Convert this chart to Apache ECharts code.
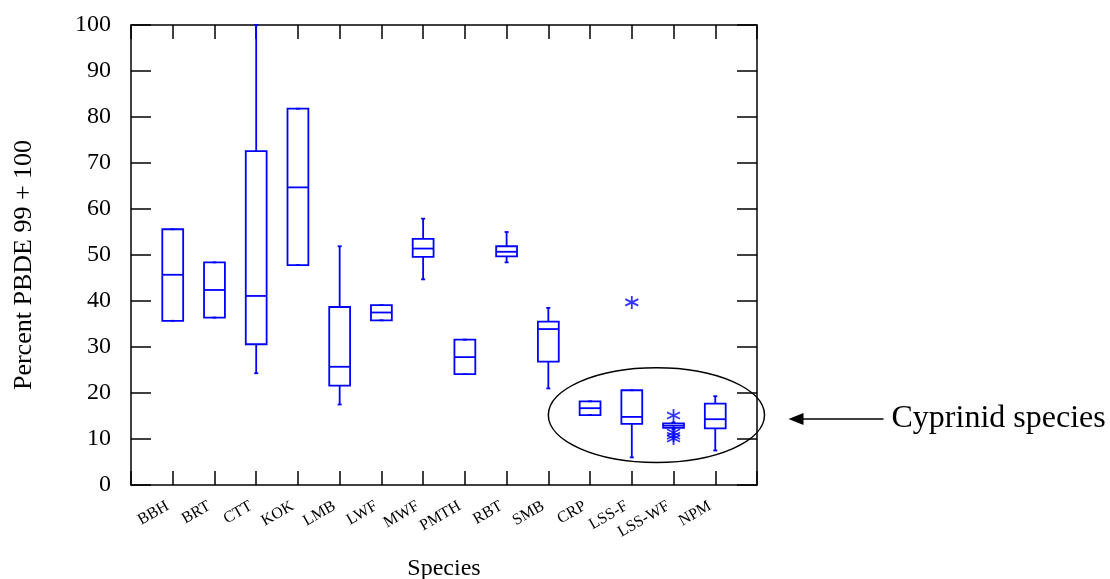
<!DOCTYPE html>
<html>
<head>
<meta charset="utf-8">
<script src="https://cdn.jsdelivr.net/npm/echarts@6/dist/echarts.min.js"></script>
<style>
html,body{margin:0;padding:0;background:#fff;}
#chart{width:1110px;height:579px;}
</style>
</head>
<body>
<div id="chart"></div>
<script>
// ---- data ----
var categories = ['BBH','BRT','CTT','KOK','LMB','LWF','MWF','PMTH','RBT','SMB','CRP','LSS-F','LSS-WF','NPM'];
var whiskerLow  = [35.7, 36.4, 24.3, 47.8, 17.5, 35.8, 44.7, 24.1, 48.4, 21.0, 15.2,  6.0, 12.1,  7.5];
var q1          = [35.7, 36.4, 30.6, 47.8, 21.6, 35.8, 49.6, 24.1, 49.7, 26.8, 15.2, 13.3, 12.4, 12.3];
var median      = [45.7, 42.4, 41.1, 64.7, 25.7, 37.5, 51.4, 27.8, 50.7, 33.9, 16.7, 14.8, 12.9, 14.3];
var q3          = [55.6, 48.4, 72.6, 81.8, 38.7, 39.1, 53.5, 31.6, 51.9, 35.5, 18.2, 20.6, 13.4, 17.7];
var whiskerHigh = [55.6, 48.4, 100.0, 81.8, 51.9, 39.1, 57.9, 31.6, 55.0, 38.5, 18.2, 20.6, 13.6, 19.3];
var outlierSpecies = ['LSS-F','LSS-WF','LSS-WF','LSS-WF','LSS-WF'];
var outlierValues  = [39.7, 15.1, 11.4, 10.7, 10.1];
var yTicks = [0,10,20,30,40,50,60,70,80,90,100];
var yTitle = 'Percent PBDE 99 + 100';
var xTitle = 'Species';
var noteText = 'Cyprinid species';
// highlighted group (ellipse) in data units: center x,y and radii
var groupCenter = [12.59, 15.2];
var groupRadius = [2.59, 10.3];

var BLUE = '#0000ff';
var FONT = 'Liberation Serif';

var boxData = categories.map(function (c, i) {
  return [i + 1, whiskerLow[i], q1[i], median[i], q3[i], whiskerHigh[i]];
});
var outlierData = outlierSpecies.map(function (s, i) {
  return [categories.indexOf(s) + 1, outlierValues[i]];
});

function renderBox(params, api) {
  var x = api.value(0);
  var lo = api.coord([x, api.value(1)]);
  var b1 = api.coord([x, api.value(2)]);
  var md = api.coord([x, api.value(3)]);
  var b3 = api.coord([x, api.value(4)]);
  var hi = api.coord([x, api.value(5)]);
  var half = api.size([1, 0])[0] * 0.25;
  var cap = 2;
  var cx = lo[0];
  var st = {stroke: BLUE, lineWidth: 1.8, fill: null};
  return {
    type: 'group',
    children: [
      {type: 'line', shape: {x1: cx, y1: hi[1], x2: cx, y2: b3[1]}, style: st},
      {type: 'line', shape: {x1: cx, y1: b1[1], x2: cx, y2: lo[1]}, style: st},
      {type: 'line', shape: {x1: cx - cap, y1: hi[1], x2: cx + cap, y2: hi[1]}, style: st},
      {type: 'line', shape: {x1: cx - cap, y1: lo[1], x2: cx + cap, y2: lo[1]}, style: st},
      {type: 'rect', shape: {x: cx - half, y: b3[1], width: 2 * half, height: b1[1] - b3[1]}, style: {stroke: BLUE, lineWidth: 1.8, fill: 'none'}},
      {type: 'line', shape: {x1: cx - half, y1: md[1], x2: cx + half, y2: md[1]}, style: st}
    ]
  };
}

var chart = echarts.init(document.getElementById('chart'), null, {renderer: 'canvas'});
var axisLineStyle = {color: '#000', width: 1.5};
var tickStyle = {color: '#000', width: 1.5};
var option = {
  backgroundColor: '#fff',
  animation: false,
  grid: {left: 131, right: 353, top: 25, bottom: 94, containLabel: false, outerBoundsMode: 'none'},
  xAxis: [{
    type: 'value', min: 0, max: categories.length + 1, interval: 1,
    position: 'bottom',
    axisLine: {show: true, onZero: false, lineStyle: axisLineStyle},
    axisTick: {show: true, inside: true, length: 14, lineStyle: tickStyle},
    splitLine: {show: false},
    axisLabel: {
      rotate: 30, margin: 17, fontFamily: FONT, fontSize: 16, color: '#000',
      padding: [0, 6, 0, 0],
      formatter: function (v) { return categories[v - 1] || ''; }
    },
    name: xTitle, nameLocation: 'middle', nameGap: 72,
    nameTextStyle: {fontFamily: FONT, fontSize: 24, color: '#000'}
  }, {
    type: 'value', min: 0, max: categories.length + 1, interval: 1,
    position: 'top',
    axisLine: {show: true, onZero: false, lineStyle: axisLineStyle},
    axisTick: {show: true, inside: true, length: 14, lineStyle: tickStyle},
    splitLine: {show: false},
    axisLabel: {show: false}
  }],
  yAxis: [{
    type: 'value', min: yTicks[0], max: yTicks[yTicks.length - 1], interval: yTicks[1] - yTicks[0],
    position: 'left',
    axisLine: {show: true, onZero: false, lineStyle: axisLineStyle},
    axisTick: {show: true, inside: true, length: 20, lineStyle: tickStyle},
    splitLine: {show: false},
    axisLabel: {margin: 20, fontFamily: FONT, fontSize: 24, color: '#000'},
    name: yTitle, nameLocation: 'middle', nameGap: 94, nameRotate: 90,
    nameTextStyle: {fontFamily: FONT, fontSize: 26, color: '#000', padding: [0, 20, 0, 0]}
  }, {
    type: 'value', min: yTicks[0], max: yTicks[yTicks.length - 1], interval: yTicks[1] - yTicks[0],
    position: 'right',
    axisLine: {show: true, onZero: false, lineStyle: axisLineStyle},
    axisTick: {show: true, inside: true, length: 20, lineStyle: tickStyle},
    splitLine: {show: false},
    axisLabel: {show: false}
  }],
  series: [{
    type: 'custom',
    xAxisIndex: 0, yAxisIndex: 0,
    renderItem: renderBox,
    encode: {x: 0, y: [1, 2, 3, 4, 5]},
    data: boxData,
    clip: false,
    z: 3
  }, {
    type: 'scatter',
    xAxisIndex: 0, yAxisIndex: 0,
    symbol: 'path://M0,-1L0,1M-0.866,-0.5L0.866,0.5M-0.866,0.5L0.866,-0.5',
    symbolSize: 13,
    itemStyle: {color: 'none', borderColor: BLUE, borderWidth: 1.8},
    data: outlierData,
    z: 4
  }]
};
chart.setOption(option);

// annotation: ellipse around cyprinid species, arrow and note
var c = chart.convertToPixel({gridIndex: 0}, groupCenter);
var e = chart.convertToPixel({gridIndex: 0}, [groupCenter[0] + groupRadius[0], groupCenter[1] + groupRadius[1]]);
var rx = e[0] - c[0], ry = c[1] - e[1];
var arrowY = c[1] + 4;
var tipX = c[0] + rx + 24;
var tailX = tipX + 95;
chart.setOption({
  graphic: [
    {type: 'ellipse', shape: {cx: c[0], cy: c[1], rx: rx, ry: ry}, style: {fill: 'none', stroke: '#000', lineWidth: 1.5}, z: 10},
    {type: 'line', shape: {x1: tipX + 12, y1: arrowY, x2: tailX, y2: arrowY}, style: {stroke: '#000', lineWidth: 1.5}, z: 10},
    {type: 'polygon', shape: {points: [[tipX, arrowY], [tipX + 15, arrowY - 6], [tipX + 15, arrowY + 6]]}, style: {fill: '#000'}, z: 10},
    {type: 'text', x: tailX + 8, y: arrowY, style: {text: noteText, font: '32px "' + FONT + '"', fill: '#000', verticalAlign: 'middle', align: 'left'}, z: 10}
  ]
});
</script>
</body>
</html>
